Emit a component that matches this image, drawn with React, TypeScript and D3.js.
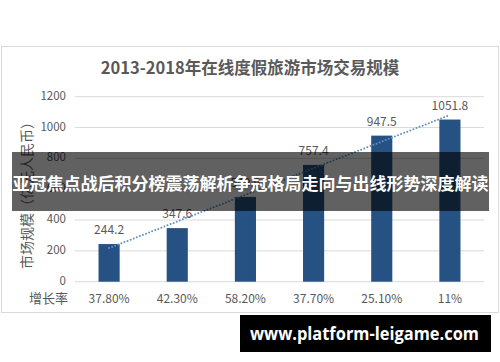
import React from "react";
import * as d3 from "d3";

const years = ["2013", "2014", "2015", "2016", "2017", "2018"];
const values = [244.2, 347.6, 549.9, 757.4, 947.5, 1051.8];
const valueLabels = ["244.2", "347.6", "549.9", "757.4", "947.5", "1051.8"];
const growth = ["37.80%", "42.30%", "58.20%", "37.70%", "25.10%", "11%"];
const yTicks = [0, 200, 400, 600, 800, 1000, 1200];

const title = "2013-2018年在线度假旅游市场交易规模";
const yTitle = "市场规模（亿元人民币）";
const growthTitle = "增长率";
const banner = "亚冠焦点战后积分榜震荡解析争冠格局走向与出线形势深度解读";
const watermark = "www.platform-leigame.com";

const W = 500;
const H = 362;
const CJK = "'Noto Sans CJK SC', 'Noto Sans', sans-serif";
const TXT = "#595959";

export default function App() {
  const x = d3.scaleBand<string>().domain(years).range([75, 484]).paddingInner(0.69).paddingOuter(0.345);
  const y = d3.scaleLinear().domain([0, 1200]).range([281.7, 96.7]);

  // least squares linear trend over the data (as in the source chart's trendline)
  const n = values.length;
  const xs = values.map((_, i) => i + 1);
  const mx = d3.mean(xs) as number;
  const my = d3.mean(values) as number;
  const slope =
    d3.sum(xs.map((xi, i) => (xi - mx) * (values[i] - my))) / d3.sum(xs.map((xi) => (xi - mx) ** 2));
  const icpt = my - slope * mx;
  const trendPts: [number, number][] = [
    [x(years[0])! + x.bandwidth() / 2, y(icpt + slope * 1)],
    [x(years[n - 1])! + x.bandwidth() / 2, y(icpt + slope * n)],
  ];
  const line = d3.line();

  return (
    <div style={{ position: "fixed", left: 0, top: 0, width: W, height: H, background: "#fff" }}>
      <svg width={W} height={H} style={{ display: "block" }}>
        <rect x={0} y={0} width={W} height={H} fill="#fff" />
        <rect x={1.5} y={46.5} width={497} height={266} fill="#fff" stroke="#d9d9d9" strokeWidth={1} />
        <text x={250} y={74} textAnchor="middle" fontFamily={CJK} fontWeight={700} fontSize={16.5} fill={TXT}>
          {title}
        </text>
        {yTicks.map((t) => (
          <g key={t}>
            <line x1={75} x2={484} y1={y(t)} y2={y(t)} stroke="#d9d9d9" strokeWidth={1} />
            <text x={66} y={y(t) - 1} dy="0.35em" textAnchor="end" fontFamily={CJK} fontSize={11.5} fill={TXT}>
              {t}
            </text>
          </g>
        ))}
        <text
          transform={`translate(27,192) rotate(-90)`}
          textAnchor="middle"
          dy="0.35em"
          fontFamily={CJK}
          fontSize={14}
          fill={TXT}
        >
          {yTitle}
        </text>
        {values.map((v, i) => (
          <rect key={years[i]} x={x(years[i])} y={y(v)} width={x.bandwidth()} height={y(0) - y(v)} fill="#255283" />
        ))}
        <path d={line(trendPts) || ""} stroke="#5f93c6" strokeWidth={2} strokeDasharray="0 3.3" strokeLinecap="round" fill="none" />
        {values.map((v, i) => (
          <text
            key={"l" + i}
            x={x(years[i])! + x.bandwidth() / 2}
            y={y(v) - 14}
            dy="0.35em"
            textAnchor="middle"
            fontFamily={CJK}
            fontSize={12}
            fill={TXT}
          >
            {valueLabels[i]}
          </text>
        ))}
        <text x={68} y={298.5} dy="0.35em" textAnchor="end" fontFamily={CJK} fontSize={13} fill={TXT}>
          {growthTitle}
        </text>
        {growth.map((g, i) => (
          <text
            key={"g" + i}
            x={x(years[i])! + x.bandwidth() / 2}
            y={298.5}
            dy="0.35em"
            textAnchor="middle"
            fontFamily={CJK}
            fontSize={12}
            fill={TXT}
          >
            {g}
          </text>
        ))}
        <rect x={12} y={152} width={477} height={59} fill="#000" fillOpacity={0.62} />
        <text
          x={250.5}
          y={184}
          dy="0.35em"
          textAnchor="middle"
          fontFamily={CJK}
          fontWeight={700}
          fontSize={16.5}
          fill="#fff"
          textLength={476}
          lengthAdjust="spacingAndGlyphs"
        >
          {banner}
        </text>
        <rect x={240} y={315} width={251} height={37} fill="#000" />
        <text
          x={364.5}
          y={334}
          dy="0.35em"
          textAnchor="middle"
          fontFamily="'Open Sans', 'DejaVu Sans', sans-serif"
          fontWeight={700}
          fontSize={17}
          fill="#fff"
          textLength={229}
          lengthAdjust="spacingAndGlyphs"
        >
          {watermark}
        </text>
      </svg>
    </div>
  );
}
